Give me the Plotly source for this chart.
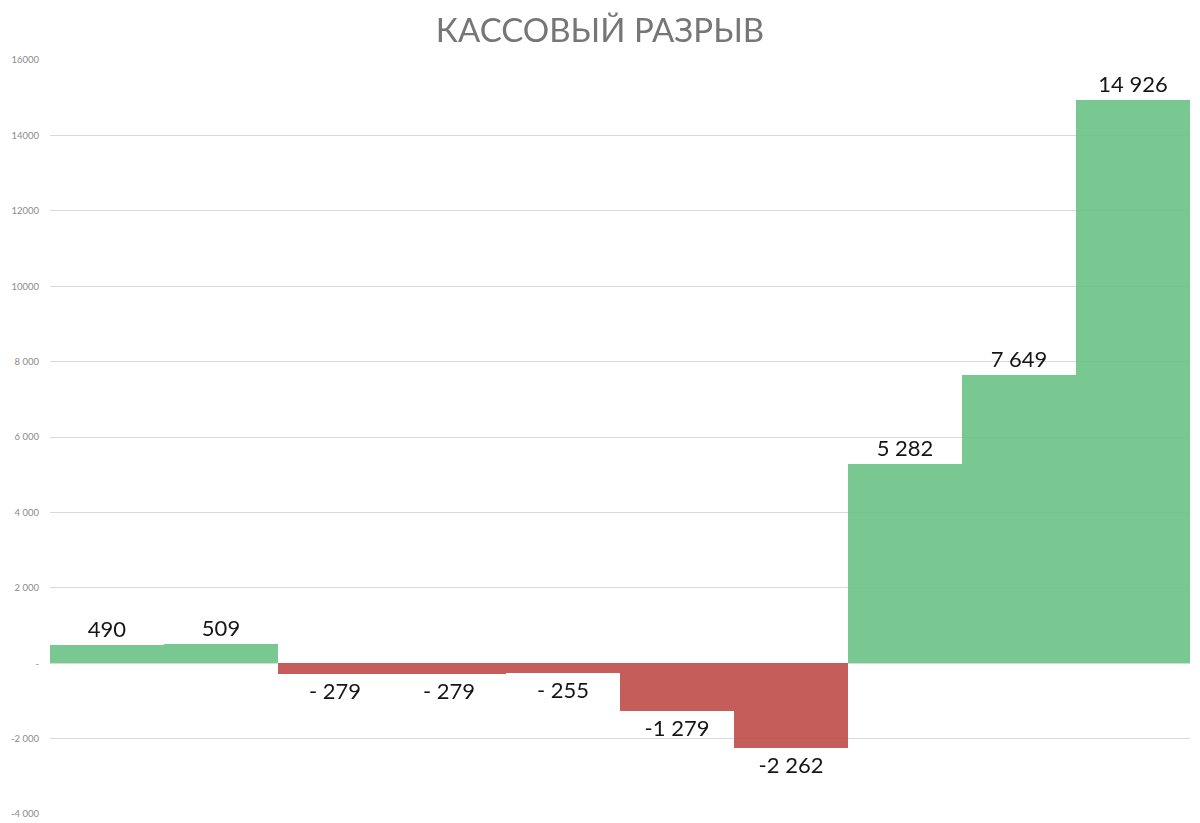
import plotly.graph_objects as go

categories = ["1", "2", "3", "4", "5", "6", "7", "8", "9", "10"]
values = [490, 509, -279, -279, -255, -1279, -2262, 5282, 7649, 14926]
labels = ["490", "509", "- 279", "- 279", "- 255", "-1 279", "-2 262", "5 282", "7 649", "14 926"]
tick_vals = [-4000, -2000, 0, 2000, 4000, 6000, 8000, 10000, 12000, 14000, 16000]
tick_text = ["-4 000", "-2 000", "-", "2 000", "4 000", "6 000", "8 000", "10000", "12000", "14000", "16000"]

GREEN = "#6fc388"
RED = "#c0504d"
colors = [GREEN if v >= 0 else RED for v in values]

# page body has an 8px default margin; size the figure to fit the window
W, H = 1192, 815

fig = go.Figure(
    go.Bar(
        x=categories,
        y=values,
        text=labels,
        texttemplate="%{text}",
        textposition="outside",
        cliponaxis=False,
        marker=dict(color=colors, line=dict(width=0)),
        opacity=0.92,
        textfont=dict(family="Lato", size=22, color="#000000"),
        hoverinfo="skip",
    )
)

fig.update_layout(
    width=W,
    height=H,
    paper_bgcolor="white",
    plot_bgcolor="white",
    bargap=0,
    showlegend=False,
    margin=dict(l=42, r=10, t=52, b=9, autoexpand=False),
    title=dict(
        text="КАССОВЫЙ РАЗРЫВ",
        x=592 / W,
        xanchor="center",
        y=1 - 22 / H,
        yanchor="middle",
        font=dict(family="Lato", size=33, color="#767676"),
    ),
    xaxis=dict(showticklabels=False, showgrid=False, zeroline=False, showline=False, ticks="", automargin=False),
    yaxis=dict(
        range=[-4000, 16000],
        tickvals=tick_vals,
        ticktext=tick_text,
        showgrid=True,
        gridcolor="#d9d9d9",
        gridwidth=1,
        zeroline=False,
        showline=False,
        ticks="",
        automargin=False,
        ticklabelstandoff=10,
        tickfont=dict(family="Lato", size=9.5, color="#8c8c8c"),
    ),
)

fig.write_html("out.html")
